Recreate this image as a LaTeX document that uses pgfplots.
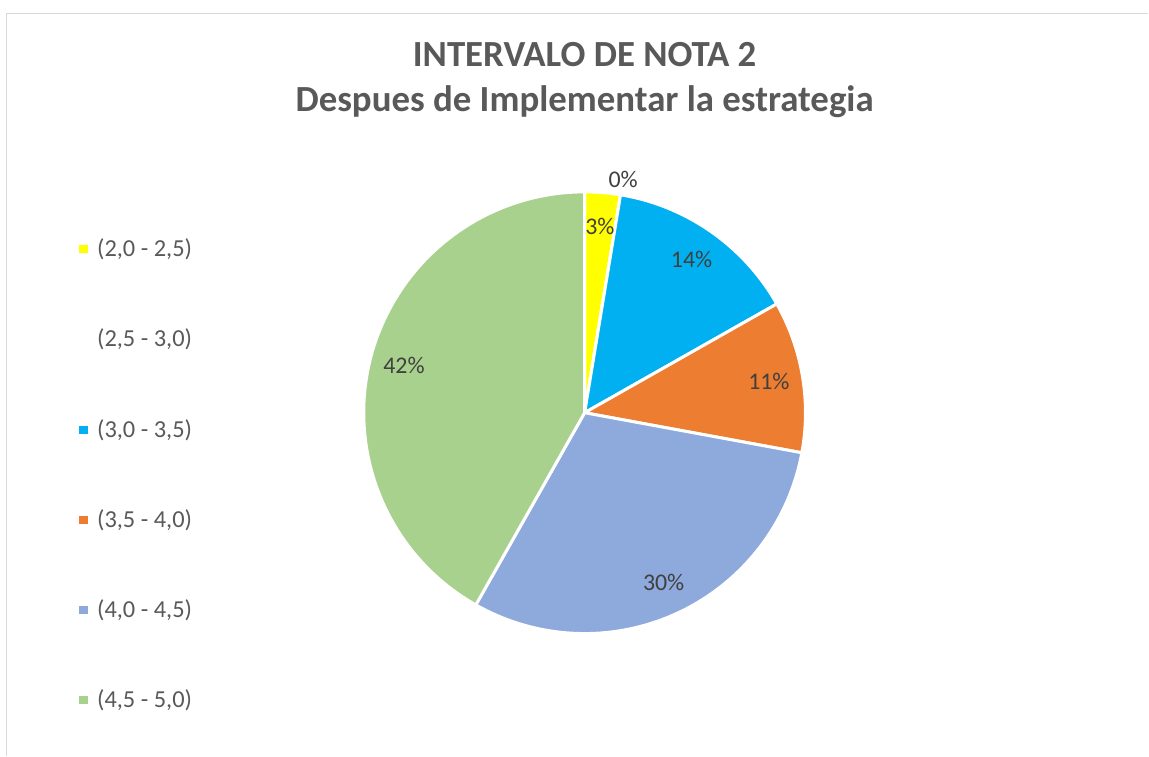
\documentclass[border=0pt]{standalone}
\usepackage{pgfplots}
\usepackage{pgfplotstable}
\pgfplotsset{compat=1.18}
\usepackage{fontspec}
\setmainfont{Carlito}

\definecolor{c0}{RGB}{255,255,0}
\definecolor{c1}{RGB}{255,255,255}
\definecolor{c2}{RGB}{0,176,240}
\definecolor{c3}{RGB}{237,125,49}
\definecolor{c4}{RGB}{142,169,219}
\definecolor{c5}{RGB}{169,209,142}
\definecolor{txt}{RGB}{89,89,89}
\definecolor{lbl}{RGB}{64,64,64}
\definecolor{frame}{RGB}{217,217,217}

% share of each interval (percent), label shown
\pgfplotstableread{
idx share pct
0 2.6 3
1 0.0 0
2 14.2 14
3 11.1 11
4 30.3 30
5 41.8 42
}\slices

\begin{document}
\begin{tikzpicture}
% cumulative angles, clockwise from 12 o'clock
\xdef\acc{90}
\foreach \i in {0,...,5}{
  \pgfplotstablegetelem{\i}{share}\of\slices
  \pgfmathsetmacro\st{\acc}
  \pgfmathsetmacro\en{\acc-3.6*\pgfplotsretval}
  \pgfmathsetmacro\md{(\st+\en)/2}
  \pgfmathsetmacro\lr{\pgfplotsretval<1 ? 237 : 187}
  \expandafter\xdef\csname st\i\endcsname{\st}
  \expandafter\xdef\csname en\i\endcsname{\en}
  \expandafter\xdef\csname md\i\endcsname{\md}
  \expandafter\xdef\csname lr\i\endcsname{\lr}
  \pgfplotstablegetelem{\i}{pct}\of\slices
  \expandafter\xdef\csname pc\i\endcsname{\pgfplotsretval}
  \xdef\acc{\en}
}
\begin{axis}[
    width=1149bp, height=756bp,
    scale only axis,
    xmin=0, xmax=1149, ymin=0, ymax=756,
    hide axis,
    clip=false,
]
\path (axis cs:0,0) rectangle (axis cs:1149,756);
\draw[frame, line width=1.5bp] (axis cs:6.5,0) -- (axis cs:6.5,742.7) -- (axis cs:1149,742.7);

\node[anchor=base, text=txt, font=\fontsize{37}{44}\selectfont\bfseries] at (axis cs:585,689) {INTERVALO DE NOTA 2};
\node[anchor=base, text=txt, font=\fontsize{37}{44}\selectfont\bfseries] at (axis cs:585,644) {Despues de Implementar la estrategia};

\pgfplotsinvokeforeach{0,...,5}{
  \filldraw[fill=c#1, draw=white, line width=3bp, line join=round]
    (axis cs:585,343) -- (axis cs:{585+221*cos(\csname st#1\endcsname)},{343+221*sin(\csname st#1\endcsname)})
    arc[start angle=\csname st#1\endcsname, end angle=\csname en#1\endcsname, radius=221bp] -- cycle;
}
\pgfplotsinvokeforeach{0,...,5}{
  \node[text=lbl, font=\fontsize{24}{28}\selectfont]
    at (axis cs:{585+\csname lr#1\endcsname*cos(\csname md#1\endcsname)},{343+\csname lr#1\endcsname*sin(\csname md#1\endcsname)})
    {\csname pc#1\endcsname\%};
}

% legend
\fill[c0] (axis cs:79,503) rectangle (axis cs:88,511);
\fill[c2] (axis cs:79,322) rectangle (axis cs:88,330);
\fill[c3] (axis cs:79,232) rectangle (axis cs:88,240);
\fill[c4] (axis cs:79,142) rectangle (axis cs:88,150);
\fill[c5] (axis cs:79,52) rectangle (axis cs:88,60);
\tikzset{legtext/.style={anchor=base west, inner sep=0pt, text=txt, font=\fontsize{24.5}{28}\selectfont}}
\node[legtext] at (axis cs:97,499.5) {(2,0 - 2,5)};
\node[legtext] at (axis cs:97,409.5) {(2,5 - 3,0)};
\node[legtext] at (axis cs:97,318.5) {(3,0 - 3,5)};
\node[legtext] at (axis cs:97,228.5) {(3,5 - 4,0)};
\node[legtext] at (axis cs:97,138.5) {(4,0 - 4,5)};
\node[legtext] at (axis cs:97,48.5) {(4,5 - 5,0)};
\end{axis}
\end{tikzpicture}
\end{document}
